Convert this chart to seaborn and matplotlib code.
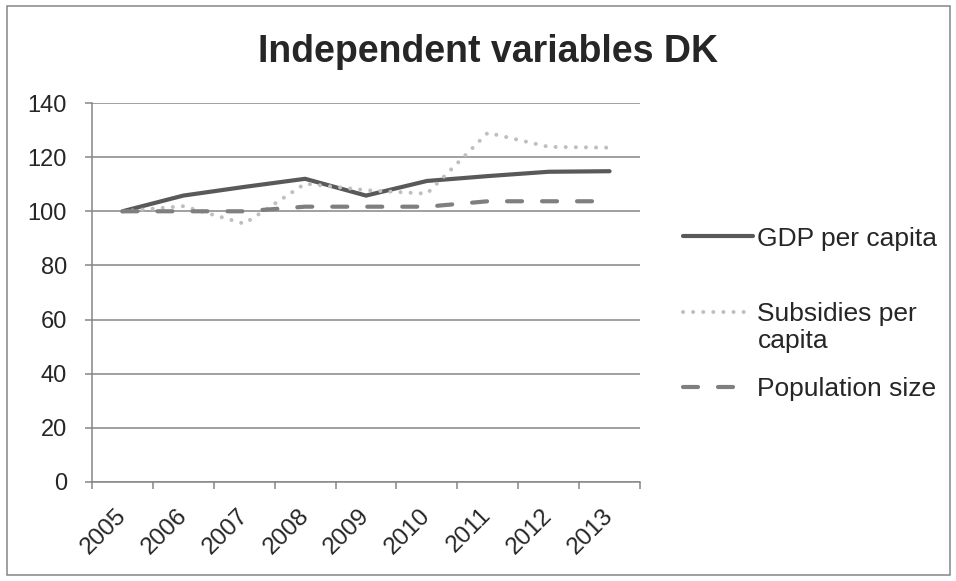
import matplotlib
matplotlib.use("Agg")
import matplotlib.pyplot as plt
import matplotlib.transforms as mtransforms
from matplotlib.patches import Rectangle
import seaborn as sns
import pandas as pd

years = ["2005", "2006", "2007", "2008", "2009", "2010", "2011", "2012", "2013"]
gdp_per_capita = [100, 105.8, 109.0, 112.0, 105.8, 111.2, 113.0, 114.6, 114.8]
subsidies_per_capita = [100, 101.9, 95.4, 110.2, 107.8, 106.5, 129.0, 123.8, 123.5]
population_size = [100, 100, 100, 101.7, 101.7, 101.7, 103.7, 103.7, 103.7]
series_names = ["GDP per capita", "Subsidies per", "Population size"]
y_ticks = [0, 20, 40, 60, 80, 100, 120, 140]

sns.set_style("white")
plt.rcParams["font.family"] = ["Liberation Sans", "DejaVu Sans"]

grid_col = "#868686"
DPI = 100

fig = plt.figure(figsize=(9.56, 5.81), dpi=DPI)
ax = fig.add_axes([92 / 956, 1 - 482 / 581, (640 - 92) / 956, (482 - 103) / 581])

pos = list(range(len(years)))
styles = [
    dict(color="#595959", lw=3.0, ls="-"),
    dict(color="#BFBFBF", lw=2.9, ls=(0, (0.01, 2.5))),
    dict(color="#7F7F7F", lw=3.0, ls=(0, (3.6, 4.8))),
]
for values, name, st in zip([gdp_per_capita, subsidies_per_capita, population_size], series_names, styles):
    df = pd.DataFrame({"pos": pos, "value": values})
    sns.lineplot(data=df, x="pos", y="value", ax=ax, color=st["color"], linewidth=st["lw"],
                 label=name, sort=False)
    line = ax.get_lines()[-1]
    line.set_linestyle(st["ls"])
    line.set_dash_capstyle("round")
    line.set_solid_capstyle("round")
    line.set_solid_joinstyle("round")

ax.set_xlim(-0.5, len(years) - 0.5)
ax.set_ylim(0, 140)
ax.set_yticks(y_ticks)
ax.set_yticklabels([str(t) for t in y_ticks])
ax.yaxis.grid(True, color=grid_col, lw=1.1)
ax.set_axisbelow(True)
ax.set_xlabel("")
ax.set_ylabel("")

# category labels at the centres, tick marks at the boundaries
ax.set_xticks([p - 0.5 for p in pos] + [len(years) - 0.5])
ax.set_xticklabels([])
ax.set_xticks(pos, minor=True)
ax.set_xticklabels(years, minor=True, rotation=45, ha="right", va="top", fontsize=17.5)
ax.tick_params(axis="x", which="minor", length=0, pad=16)
ax.tick_params(axis="x", which="major", length=5, width=1.1, color=grid_col, direction="out", bottom=True)
ax.tick_params(axis="y", length=5, width=1.1, color=grid_col, direction="out", left=True, labelsize=17, pad=13)
offset = mtransforms.ScaledTranslation(8 / DPI, 0, fig.dpi_scale_trans)
for lbl in ax.get_xticklabels(minor=True):
    lbl.set_transform(lbl.get_transform() + offset)

for side in ["top", "right"]:
    ax.spines[side].set_visible(False)
for side in ["left", "bottom"]:
    ax.spines[side].set_color(grid_col)
    ax.spines[side].set_linewidth(1.1)

leg_fs = 19
leg = ax.legend(loc="center left", bbox_to_anchor=(683 / 956, 1 - 314 / 581), bbox_transform=fig.transFigure,
                frameon=False, fontsize=leg_fs, handlelength=2.65, handletextpad=0.17, labelspacing=1.95,
                borderaxespad=0, borderpad=0)

# second line of the subsidies entry, set under the first
fig.canvas.draw()
sub_txt = leg.get_texts()[1]
bb = sub_txt.get_window_extent()
fig.text(bb.x0 / fig.bbox.width, (bb.y0 - 27) / fig.bbox.height, "capita", ha="left", va="bottom",
         fontsize=leg_fs)

fig.text(488 / 956, 1 - 52 / 581, "Independent variables DK", ha="center", va="center",
         fontsize=27, fontweight="bold")

fig.patches.append(Rectangle((7 / 956, 6 / 581), 943 / 956, 569 / 581, transform=fig.transFigure,
                             fill=False, edgecolor=grid_col, lw=1.1))

fig.savefig("out.png", dpi=DPI)
